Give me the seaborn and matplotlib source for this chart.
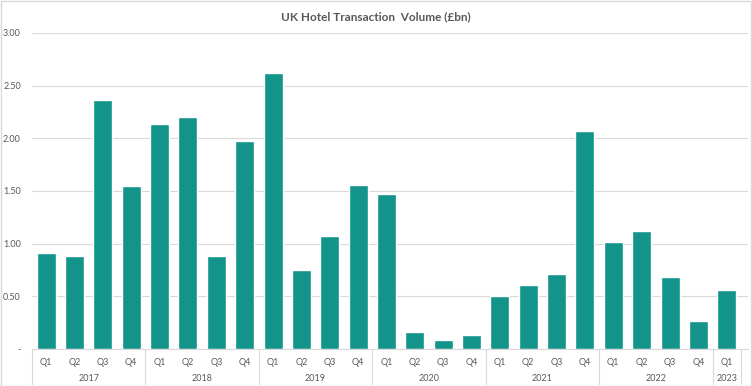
import pandas as pd
import seaborn as sns
import matplotlib.pyplot as plt
from matplotlib.patches import Rectangle

years = ['2017'] * 4 + ['2018'] * 4 + ['2019'] * 4 + ['2020'] * 4 + ['2021'] * 4 + ['2022'] * 4 + ['2023']
quarters = ['Q1', 'Q2', 'Q3', 'Q4'] * 6 + ['Q1']
volume = [0.91, 0.88, 2.36, 1.55,
          2.14, 2.20, 0.88, 1.97,
          2.62, 0.75, 1.07, 1.56,
          1.47, 0.16, 0.09, 0.13,
          0.50, 0.61, 0.71, 2.07,
          1.02, 1.12, 0.68, 0.27,
          0.56]
yticks = [0, 0.5, 1.0, 1.5, 2.0, 2.5, 3.0]
ytick_labels = ['-', '0.50', '1.00', '1.50', '2.00', '2.50', '3.00']

data = pd.DataFrame({'year': years, 'quarter': quarters, 'volume': volume})
data['period'] = data['year'] + ' ' + data['quarter']

sns.set_style('white')
plt.rcParams['font.family'] = ['Lato', 'DejaVu Sans']

fig = plt.figure(figsize=(7.52, 3.86), dpi=100)
ax = fig.add_axes([32 / 752, 37 / 386, 716 / 752, 316 / 386])

sns.barplot(x='period', y='volume', data=data, color='#13948b', saturation=1, width=0.67, ax=ax)

ax.set_ylim(0, 3.0)
ax.set_xlim(-0.5, len(data) - 0.25)
ax.set_yticks(yticks)
ax.set_yticklabels(ytick_labels, fontsize=6.5, color='#595959')
ax.tick_params(axis='y', length=0, pad=8)
ax.yaxis.grid(True, color='#d9d9d9', linewidth=0.8)
ax.set_axisbelow(True)
for s in ['top', 'right', 'left']:
    ax.spines[s].set_visible(False)
ax.spines['bottom'].set_color('#d9d9d9')

# two level category axis
ax.set_xticks([])
ax.set_xlabel('')
ax.set_ylabel('')
trans = ax.get_xaxis_transform()
for i, q in enumerate(quarters):
    ax.text(i, -0.028, q, transform=trans, ha='center', va='top', fontsize=6.5, color='#595959')
bounds = [-0.5]
for i in range(1, len(years)):
    if years[i] != years[i - 1]:
        bounds.append(i - 0.5)
bounds.append(len(years) - 0.5)
for b in bounds:
    ax.plot([b, b], [0, -0.112], transform=trans, color='#d9d9d9', linewidth=0.8, clip_on=False)
for k in range(len(bounds) - 1):
    mid = (bounds[k] + bounds[k + 1]) / 2
    ax.text(mid, -0.078, years[int(bounds[k] + 0.5)], transform=trans, ha='center', va='top',
            fontsize=6.5, color='#595959')

fig.text(0.5, 0.957, 'UK Hotel Transaction  Volume (£bn)', ha='center', va='center',
         fontsize=8.5, fontweight='bold', color='#595959')
fig.patches.append(Rectangle((0.001, 0.001), 0.998, 0.997, transform=fig.transFigure,
                             fill=False, edgecolor='#d9d9d9', linewidth=1))

plt.savefig('out.png', dpi=100)
